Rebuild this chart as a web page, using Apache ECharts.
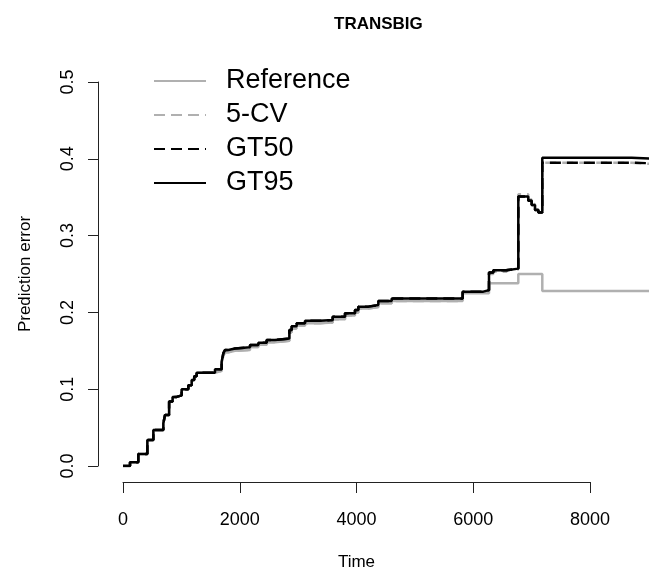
<!DOCTYPE html>
<html>
  <head>
    <meta charset="utf-8" />
    <title>TRANSBIG</title>
    <script src="https://cdn.jsdelivr.net/npm/echarts@6/dist/echarts.min.js"></script>
  </head>
  <body style="margin:0;padding:0;">
    <div id="chart" style="width:649px;height:571px;"></div>
    <script type="text/javascript">
      // time points where the step curves change
      var times = [0, 120, 262, 417, 520, 691, 720, 790, 850, 920, 1005, 1119, 1177, 1220, 1262,
        1576, 1690, 1720, 1747, 1805, 1919, 2176, 2318, 2461, 2604, 2850, 2890, 2975, 3118, 3375,
        3592, 3803, 3974, 4031, 4202, 4374, 4603, 5819, 6172, 6270, 6344, 6573, 6772, 6943, 7001,
        7058, 7115, 7183, 8714, 9100];

      var gt95 = [0, 0.005, 0.0156, 0.034, 0.047, 0.0556, 0.0664, 0.084, 0.090, 0.092, 0.0998, 0.105, 0.112, 0.117, 0.1215,
        0.126, 0.136, 0.147, 0.151, 0.153, 0.1545, 0.1576, 0.1606, 0.164, 0.166, 0.177, 0.182, 0.186, 0.189, 0.190,
        0.1944, 0.1988, 0.203, 0.2075, 0.2096, 0.2148, 0.218, 0.227, 0.229, 0.252, 0.255, 0.257, 0.351, 0.3455, 0.340,
        0.3333, 0.330, 0.4015, 0.400, 0.400];

      var gt50 = [0, 0.005, 0.0156, 0.034, 0.047, 0.0556, 0.0664, 0.084, 0.090, 0.092, 0.0998, 0.105, 0.112, 0.117, 0.1215,
        0.126, 0.136, 0.147, 0.151, 0.153, 0.1545, 0.1576, 0.1606, 0.164, 0.166, 0.177, 0.182, 0.186, 0.189, 0.190,
        0.1944, 0.1988, 0.203, 0.2075, 0.2096, 0.2148, 0.218, 0.227, 0.229, 0.252, 0.255, 0.257, 0.351, 0.3455, 0.340,
        0.3333, 0.330, 0.395, 0.394, 0.394];

      var cv5 = [0, 0.005, 0.0156, 0.034, 0.047, 0.0556, 0.0664, 0.084, 0.090, 0.092, 0.0998, 0.105, 0.112, 0.117, 0.1215,
        0.124, 0.134, 0.144, 0.148, 0.150, 0.151, 0.155, 0.158, 0.161, 0.163, 0.174, 0.179, 0.183, 0.186, 0.187,
        0.191, 0.196, 0.200, 0.205, 0.207, 0.212, 0.215, 0.226, 0.229, 0.250, 0.253, 0.256, 0.354, 0.347, 0.341,
        0.334, 0.331, 0.395, 0.393, 0.393];

      var reference = [0, 0.005, 0.0156, 0.034, 0.047, 0.0556, 0.0664, 0.084, 0.090, 0.092, 0.0998, 0.105, 0.112, 0.117, 0.1215,
        0.124, 0.134, 0.144, 0.148, 0.150, 0.151, 0.155, 0.158, 0.161, 0.163, 0.174, 0.179, 0.183, 0.186, 0.187,
        0.191, 0.196, 0.200, 0.205, 0.207, 0.212, 0.215, 0.225, 0.225, 0.238, 0.238, 0.238, 0.250, 0.250, 0.250,
        0.250, 0.250, 0.228, 0.228, 0.228];

      var xTicks = [0, 2000, 4000, 6000, 8000];
      var yTicks = [0, 0.1, 0.2, 0.3, 0.4, 0.5];
      var font = "'Liberation Sans', Arial, sans-serif";

      function pairs(ys) {
        return times.map(function (t, i) { return [t, ys[i]]; });
      }

      function stepSeries(name, ys, color, width, dashed) {
        return {
          name: name,
          type: 'line',
          step: 'end',
          symbol: 'none',
          xAxisIndex: 1,
          yAxisIndex: 1,
          data: pairs(ys),
          lineStyle: { color: color, width: width, type: dashed ? [11, 6] : 'solid' },
          itemStyle: { color: color }
        };
      }

      // the data region runs past the last tick to the right edge, like the R device
      var xMaxData = Math.round((649 - 123) / (467 / 8000));

      var chart = echarts.init(document.getElementById('chart'), null, { renderer: 'canvas' });
      chart.setOption({
        animation: false,
        backgroundColor: '#fff',
        title: {
          text: 'TRANSBIG',
          left: 329,
          top: 11,
          textStyle: { fontFamily: font, fontSize: 17, fontWeight: 'bold', color: '#000' }
        },
        legend: {
          orient: 'vertical',
          left: 148,
          top: 62,
          itemWidth: 52,
          itemHeight: 14,
          itemGap: 6,
          itemStyle: { opacity: 0 },
          textStyle: { fontFamily: font, fontSize: 27, color: '#000', lineHeight: 28, padding: [0, 0, 0, 15] },
          data: ['Reference', '5-CV', 'GT50', 'GT95']
        },
        grid: [
          { left: 123, right: 59, top: 82, bottom: 105, outerBoundsMode: 'none' },
          { left: 123, right: 0, top: 82, bottom: 105, outerBoundsMode: 'none' }
        ],
        xAxis: [{
          gridIndex: 0,
          type: 'value',
          min: 0,
          max: 8000,
          interval: 2000,
          offset: 16,
          name: 'Time',
          nameLocation: 'middle',
          nameGap: 72,
          nameTextStyle: { fontFamily: font, fontSize: 17, color: '#000' },
          axisLine: { onZero: false, lineStyle: { color: '#222', width: 1 } },
          axisTick: { length: 11, lineStyle: { color: '#222' } },
          axisLabel: {
            fontFamily: font, fontSize: 18, color: '#000', margin: 29, customValues: xTicks,
            formatter: function (v) { return String(v); }
          },
          splitLine: { show: false }
        }, {
          gridIndex: 1,
          type: 'value',
          min: 0,
          max: xMaxData,
          show: false
        }],
        yAxis: [{
          gridIndex: 0,
          type: 'value',
          min: 0,
          max: 0.5,
          interval: 0.1,
          offset: 25,
          name: 'Prediction error',
          nameLocation: 'middle',
          nameGap: 64,
          nameTextStyle: { fontFamily: font, fontSize: 17, color: '#000' },
          axisLine: { show: true, onZero: false, lineStyle: { color: '#222', width: 1 } },
          axisTick: { show: true, length: 10, lineStyle: { color: '#222' } },
          axisLabel: {
            fontFamily: font, fontSize: 18, color: '#000', rotate: 90, margin: 21, customValues: yTicks,
            formatter: function (v) { return v.toFixed(1); }
          },
          splitLine: { show: false }
        }, {
          gridIndex: 1,
          type: 'value',
          min: 0,
          max: 0.5,
          show: false
        }],
        series: [
          stepSeries('Reference', reference, '#b0b0b0', 2.5, false),
          stepSeries('5-CV', cv5, '#b0b0b0', 2.5, true),
          stepSeries('GT50', gt50, '#000', 2.5, true),
          stepSeries('GT95', gt95, '#000', 2.5, false)
        ]
      });
    </script>
  </body>
</html>
